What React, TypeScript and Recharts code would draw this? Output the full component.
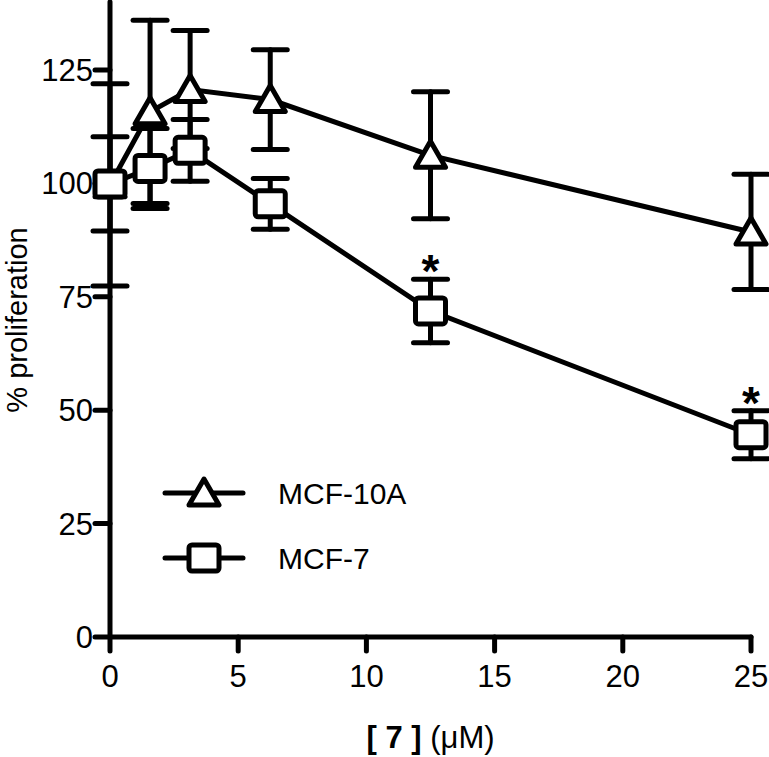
import {
  ComposedChart,
  Line,
  Scatter,
  XAxis,
  YAxis,
  ErrorBar,
  Legend,
} from 'recharts';

// concentrations of compound 7 (µM)
const conc = [0, 1.5625, 3.125, 6.25, 12.5, 25];

const mcf10a = [99.7, 115.8, 120.7, 118.5, 106.2, 89.3];
const mcf10aSd = [22.3, 20.2, 13, 11, 14, 12.7];

const mcf7 = [99.9, 103.3, 107.3, 95.5, 71.9, 44.6];
const mcf7Sd = [10.4, 8.8, 6.8, 5.6, 7, 5.3];
const mcf7Sig = [false, false, false, false, true, true];

const xTicks = [0, 5, 10, 15, 20, 25];
const yTicks = [0, 25, 50, 75, 100, 125];

const seriesNames = ['MCF-10A', 'MCF-7'];

const data = conc.map((x, i) => ({
  x,
  mcf10a: mcf10a[i],
  mcf10aSd: mcf10aSd[i],
  mcf7: mcf7[i],
  mcf7Sd: mcf7Sd[i],
}));

const sigData = conc
  .map((x, i) => ({ x, top: mcf7[i] + mcf7Sd[i], sig: mcf7Sig[i] }))
  .filter((d) => d.sig);

const FONT = '"Liberation Sans", Arial, sans-serif';

function Triangle({ cx, cy }: { cx: number; cy: number }) {
  return (
    <path
      d={`M${cx},${cy - 14} L${cx + 15},${cy + 12} L${cx - 15},${cy + 12} Z`}
      fill="#fff"
      stroke="#000"
      strokeWidth={5}
      strokeLinejoin="round"
    />
  );
}

function Square({ cx, cy }: { cx: number; cy: number }) {
  return (
    <rect
      x={cx - 15}
      y={cy - 13}
      width={30}
      height={26}
      rx={3}
      fill="#fff"
      stroke="#000"
      strokeWidth={5}
    />
  );
}

function renderLegend() {
  return (
    <svg width={260} height={120} style={{ display: 'block', overflow: 'visible' }}>
      {seriesNames.map((name, i) => {
        const y = 28 + i * 65;
        return (
          <g key={name}>
            <line x1={15} x2={93} y1={y} y2={y} stroke="#000" strokeWidth={5} strokeLinecap="round" />
            {i === 0 ? <Triangle cx={54} cy={y} /> : <Square cx={54} cy={y} />}
            <text x={128} y={y + 11} fontSize={30} fontFamily={FONT} fill="#000">
              {name}
            </text>
          </g>
        );
      })}
    </svg>
  );
}

export default function App() {
  return (
    <div style={{ position: 'absolute', left: 0, top: 0, background: '#fff' }}>
      <ComposedChart
        width={769}
        height={757}
        data={data}
        margin={{ top: 2, right: 18, bottom: 60, left: 30 }}
      >
        <XAxis
          dataKey="x"
          type="number"
          domain={[0, 25]}
          ticks={xTicks}
          tickSize={14}
          tickMargin={14}
          axisLine={{ stroke: '#000', strokeWidth: 5, strokeLinecap: 'round' }}
          tickLine={{ stroke: '#000', strokeWidth: 5, strokeLinecap: 'round' }}
          tick={{ fill: '#000', fontSize: 31, fontFamily: FONT }}
          height={60}
          label={{
            content: (props: any) => {
              const vb = props.viewBox || {};
              const cx = (vb.x ?? 110) + (vb.width ?? 641) / 2;
              return (
                <text x={cx} y={748} textAnchor="middle" fontSize={31} fontFamily={FONT} fill="#000">
                  <tspan fontWeight="bold">[ 7 ]</tspan>
                  <tspan> (μM)</tspan>
                </text>
              );
            },
          }}
        />
        <YAxis
          type="number"
          domain={[0, 140]}
          ticks={yTicks}
          width={80}
          tickSize={15}
          tickMargin={2}
          axisLine={{ stroke: '#000', strokeWidth: 5, strokeLinecap: 'round' }}
          tickLine={{ stroke: '#000', strokeWidth: 5, strokeLinecap: 'round' }}
          tick={{ fill: '#000', fontSize: 31, fontFamily: FONT }}
          label={{
            content: () => (
              <text
                x={27}
                y={320}
                transform="rotate(-90, 27, 320)"
                textAnchor="middle"
                fontSize={29}
                fontFamily={FONT}
                fill="#000"
              >
                % proliferation
              </text>
            ),
          }}
        />

        {/* markers + error bars (white filled, under the connecting lines) */}
        <Line
          dataKey="mcf10a"
          stroke="none"
          isAnimationActive={false}
          dot={(p: any) => <Triangle key={`t-${p.index}`} cx={p.cx} cy={p.cy} />}
          activeDot={false}
        >
          <ErrorBar dataKey="mcf10aSd" width={17} stroke="#000" strokeWidth={5} strokeLinecap="round" />
        </Line>
        <Line
          dataKey="mcf7"
          stroke="none"
          isAnimationActive={false}
          dot={(p: any) => <Square key={`s-${p.index}`} cx={p.cx} cy={p.cy} />}
          activeDot={false}
        >
          <ErrorBar dataKey="mcf7Sd" width={17} stroke="#000" strokeWidth={5} strokeLinecap="round" />
        </Line>

        {/* connecting lines */}
        <Line dataKey="mcf10a" stroke="#000" strokeWidth={5} dot={false} activeDot={false} isAnimationActive={false} />
        <Line dataKey="mcf7" stroke="#000" strokeWidth={5} dot={false} activeDot={false} isAnimationActive={false} />

        {/* significance asterisks */}
        <Scatter
          data={sigData}
          dataKey="top"
          isAnimationActive={false}
          shape={(p: any) => (
            <text
              x={p.cx}
              y={p.cy + 8}
              textAnchor="middle"
              fontSize={46}
              fontWeight="bold"
              fontFamily={FONT}
              fill="#000"
            >
              *
            </text>
          )}
        />

        <Legend
          content={renderLegend}
          wrapperStyle={{ position: 'absolute', left: 150, top: 465, width: 260, height: 0, overflow: 'visible' }}
        />
      </ComposedChart>
    </div>
  );
}
